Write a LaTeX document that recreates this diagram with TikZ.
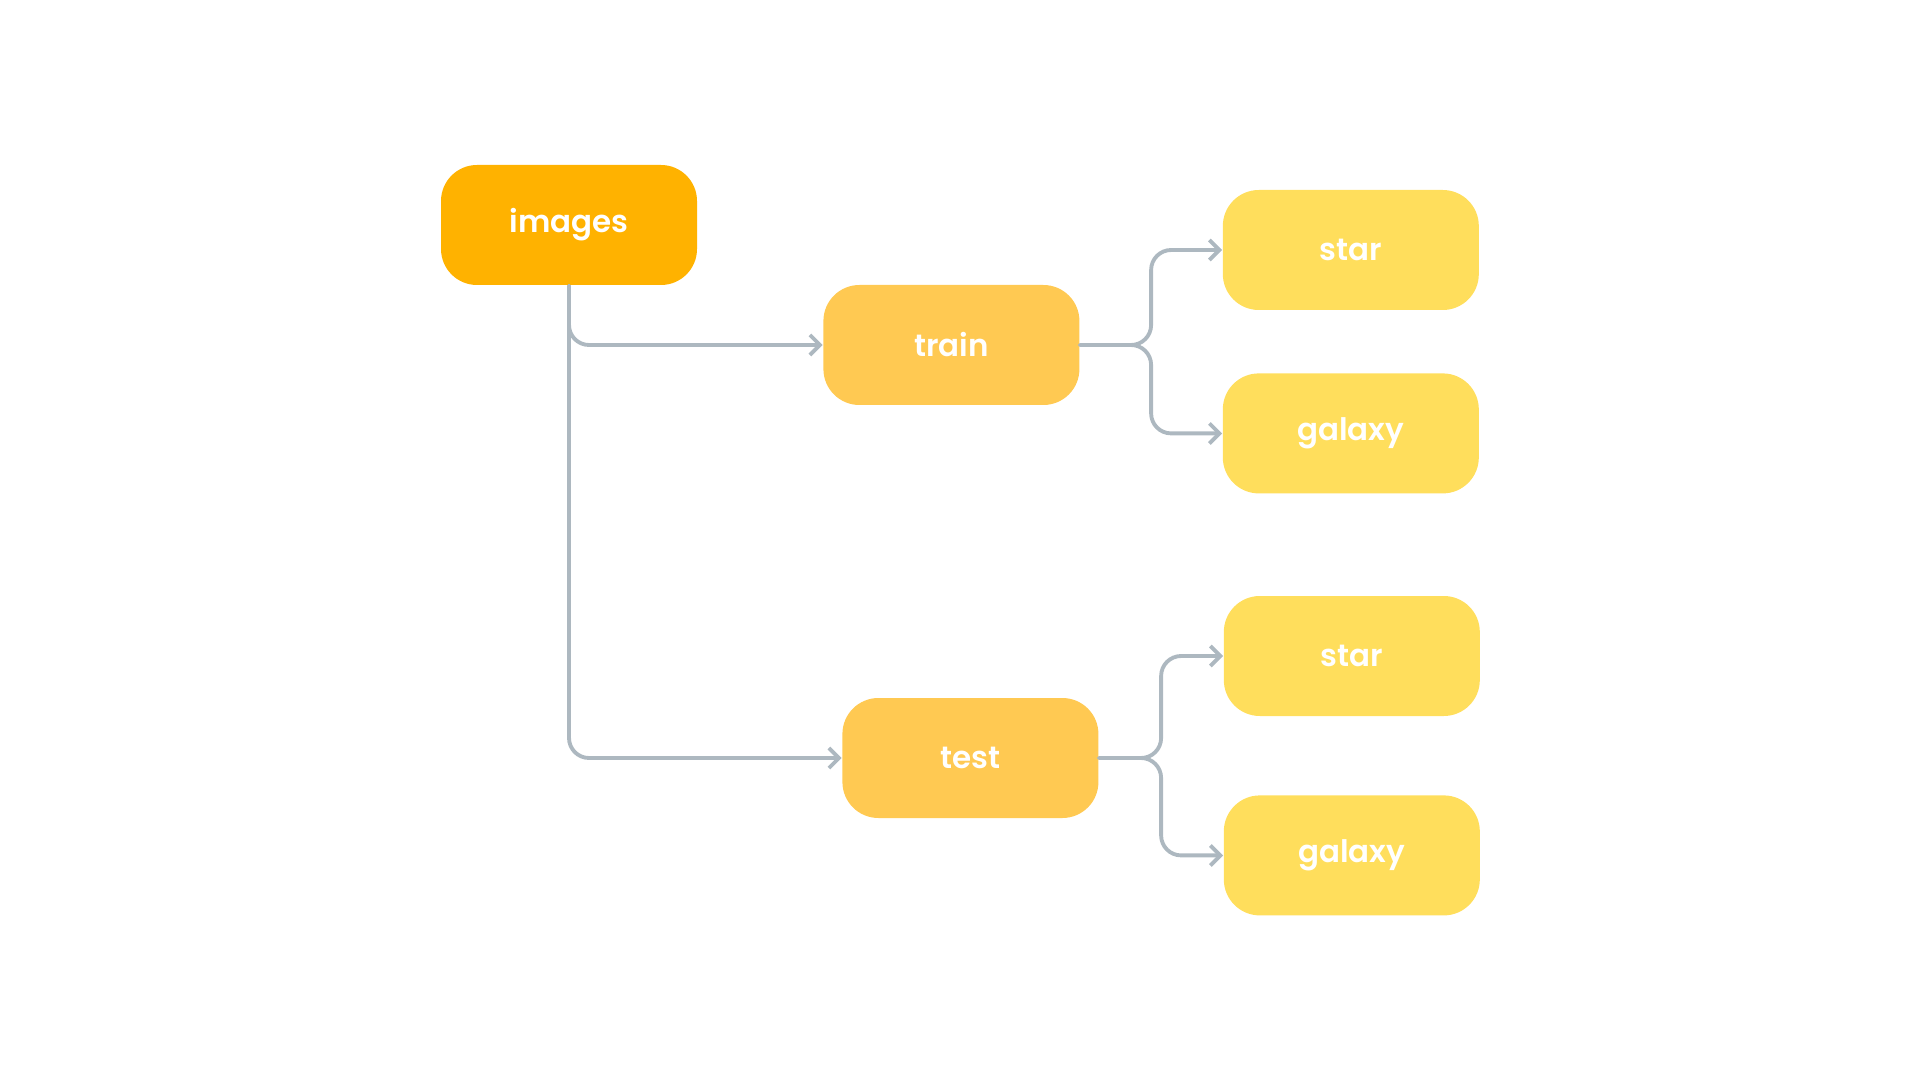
\documentclass[tikz,border=0pt]{standalone}
\usepackage{fontspec}
\setmainfont{Poppins}[BoldFont={Poppins SemiBold}]
\usetikzlibrary{arrows.meta,positioning,calc}

\definecolor{rootfill}{HTML}{FFB200}
\definecolor{splitfill}{HTML}{FFC952}
\definecolor{classfill}{HTML}{FFDE5C}
\definecolor{linkgray}{HTML}{ADB8C0}

\begin{document}
\begin{tikzpicture}[
  folder/.style={rounded corners=0.36cm, minimum width=2.56cm, minimum height=1.20cm, inner sep=0pt, text=white, font=\fontsize{8.8}{10}\selectfont\bfseries},
  root/.style={folder, fill=rootfill},
  split/.style={folder, fill=splitfill},
  cls/.style={folder, fill=classfill},
  conn/.style={-{Straight Barb[length=1mm, width=2mm]}, draw=linkgray, line width=1.1pt, line cap=round, rounded corners=0.2cm}
]
\useasboundingbox (0,0) rectangle (19.2,-10.8);

\node[root] (images) at (5.69,-2.25) {images};
\node[split, right=1.25cm of images, yshift=-1.2cm] (train) {train};
\node[split, right=1.44cm of images, yshift=-5.33cm] (test) {test};

\node[cls, right=1.42cm of train, yshift=0.95cm] (trainstar) {star};
\node[cls, below=0.62cm of trainstar] (traingalaxy) {galaxy};
\node[cls, right=1.24cm of test, yshift=1.02cm] (teststar) {star};
\node[cls, below=0.78cm of teststar] (testgalaxy) {galaxy};

\draw[conn] (images.south) |- (train.west);
\draw[conn] (images.south) |- (test.west);

\coordinate (trainfork) at ($(train.east)!0.5!(trainstar.west |- train.east)$);
\coordinate (testfork) at ($(test.east)!0.5!(teststar.west |- test.east)$);
\draw[conn] (train.east) -- (trainfork) |- (trainstar.west);
\draw[conn] (train.east) -- (trainfork) |- (traingalaxy.west);
\draw[conn] (test.east) -- (testfork) |- (teststar.west);
\draw[conn] (test.east) -- (testfork) |- (testgalaxy.west);

\end{tikzpicture}
\end{document}
